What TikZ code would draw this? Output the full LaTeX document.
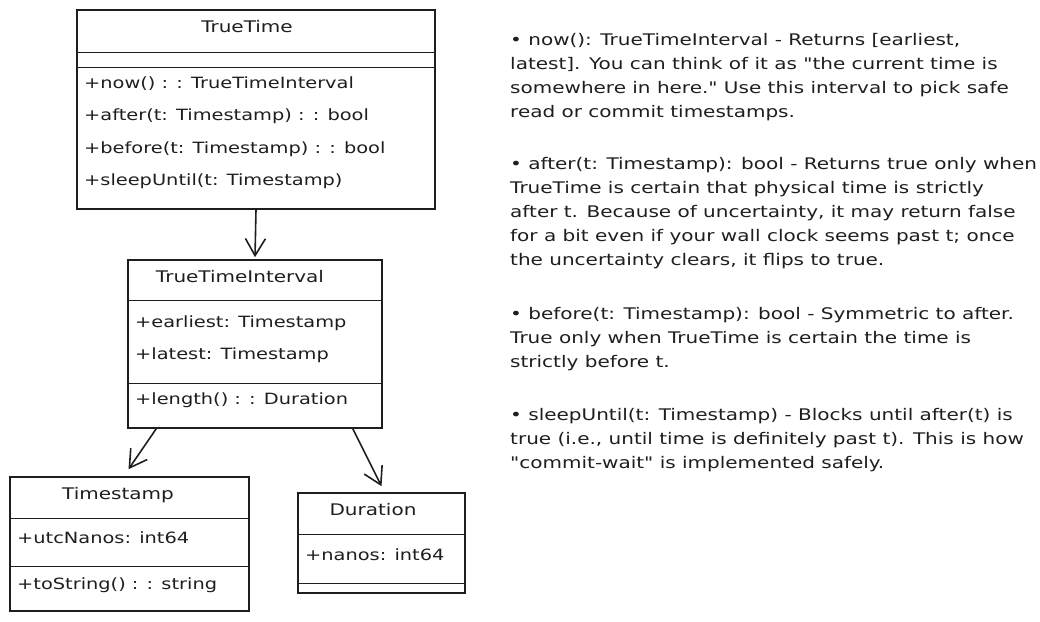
\documentclass[tikz,border=0pt]{standalone}
\usepackage{fontspec}
\setmainfont{DejaVu Sans}[FakeStretch=1.25,Ligatures=TeXOff]
\usetikzlibrary{arrows.meta,calc}
\definecolor{ink}{HTML}{1E1E1E}
\begin{document}
\begin{tikzpicture}[x=1pt,y=-1pt,
  box/.style={draw=ink, line width=1.6pt, inner sep=0pt},
  sep/.style={draw=ink, line width=0.9pt},
  mem/.style={anchor=west, inner sep=0pt, font=\fontsize{15.5}{18}\selectfont, text=ink},
  ttl/.style={inner sep=0pt, font=\fontsize{16}{18}\selectfont, text=ink},
  note/.style={anchor=north west, inner sep=0pt, align=left, font=\fontsize{16}{24}\selectfont, text=ink},
  rel/.style={draw=ink, line width=1.6pt, -{Straight Barb[length=17pt,width=20pt,line width=1.6pt]}}
]
\useasboundingbox (0,0) rectangle (1040,621);

% TrueTime
\node[box, minimum width=358pt, minimum height=199pt] (tt) at (256,109.5) {};
\draw[sep] (tt.west |- 0,52) -- (tt.east |- 0,52);
\draw[sep] (tt.west |- 0,67) -- (tt.east |- 0,67);
\node[ttl] (ttT) at (247,27) {TrueTime};
\node[mem] (tt1) at (84,84) {+now() : : TrueTimeInterval};
\node[mem] (tt2) at (84,116) {+after(t: Timestamp) : : bool};
\node[mem] (tt3) at (84,149) {+before(t: Timestamp) : : bool};
\node[mem] (tt4) at (84,181) {+sleepUntil(t: Timestamp)};

% TrueTimeInterval
\node[box, minimum width=254pt, minimum height=168pt] (tti) at (255,344) {};
\draw[sep] (tti.west |- 0,300) -- (tti.east |- 0,300);
\draw[sep] (tti.west |- 0,383) -- (tti.east |- 0,383);
\node[ttl] (ttiT) at (240,277) {TrueTimeInterval};
\node[mem] (tti1) at (135,323) {+earliest: Timestamp};
\node[mem] (tti2) at (135,355) {+latest: Timestamp};
\node[mem] (tti3) at (135,400) {+length() : : Duration};

% Timestamp
\node[box, minimum width=239pt, minimum height=134pt] (ts) at (129.5,544) {};
\draw[sep] (ts.west |- 0,518) -- (ts.east |- 0,518);
\draw[sep] (ts.west |- 0,566) -- (ts.east |- 0,566);
\node[ttl] (tsT) at (118,495) {Timestamp};
\node[mem] (ts1) at (17,538) {+utcNanos: int64};
\node[mem] (ts2) at (17,585) {+toString() : : string};

% Duration
\node[box, minimum width=167pt, minimum height=100pt] (du) at (381.5,543) {};
\draw[sep] (du.west |- 0,534) -- (du.east |- 0,534);
\draw[sep] (du.west |- 0,583) -- (du.east |- 0,583);
\node[ttl] (duT) at (373,510) {Duration};
\node[mem] (du1) at (305,555) {+nanos: int64};

% relations
\draw[rel] (tt.south) -- ($(tti.north)+(0,-2)$);
\draw[rel] ($(tti.south west)+(29,0)$) -- ($(ts.north)+(-1,-7)$);
\draw[rel] ($(tti.south east)+(-30,0)$) -- ($(du.north)+(0,-6)$);

% notes
\node[note] (n1) at (510,33) {• now(): TrueTimeInterval - Returns [earliest,\\latest]. You can think of it as "the current time is\\somewhere in here." Use this interval to pick safe\\read or commit timestamps.};
\node[note] (n2) at (510,157) {• after(t: Timestamp): bool - Returns true only when\\TrueTime is certain that physical time is strictly\\after t. Because of uncertainty, it may return false\\for a bit even if your wall clock seems past t; once\\the uncertainty clears, it flips to true.};
\node[note] (n3) at (510,307) {• before(t: Timestamp): bool - Symmetric to after.\\True only when TrueTime is certain the time is\\strictly before t.};
\node[note] (n4) at (510,408) {• sleepUntil(t: Timestamp) - Blocks until after(t) is\\true (i.e., until time is definitely past t). This is how\\"commit-wait" is implemented safely.};
\end{tikzpicture}
\end{document}
